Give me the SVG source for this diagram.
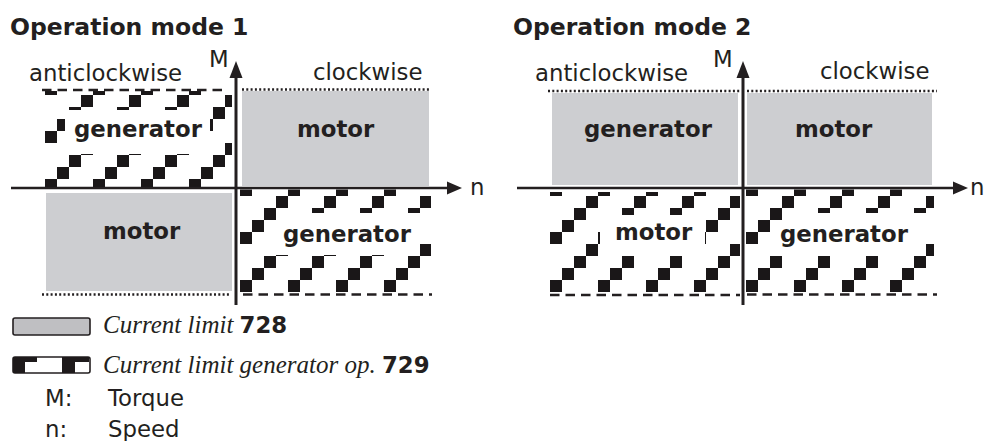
<svg xmlns="http://www.w3.org/2000/svg" width="984" height="441" viewBox="0 0 984 441">
<style>
text{fill:#231f20;font-family:"DejaVu Sans",Verdana,sans-serif}
.t{font-size:23.5px;font-weight:bold}
.lb{font-size:22.8px}
.b{font-size:22.8px;font-weight:bold}
.it{font-family:"Liberation Serif","Times New Roman",serif;font-style:italic;font-size:25px}
.gray{fill:#cdced1}
.dot{stroke:#231f20;stroke-width:2.5;stroke-dasharray:2 2.3;fill:none}
.dash{stroke:#231f20;stroke-width:2.6;stroke-dasharray:9.5 6;fill:none}
.ax{stroke:#231f20;fill:none}
.ah{fill:#231f20}
.bg{fill:#fff}
</style>
<defs>
<path id="stair" d="M0 36h12v12H0zM12 24h12v12H12zM24 12h12v12H24zM36 0h12v12H36z" fill="#1a1718"/>
<pattern id="p1" patternUnits="userSpaceOnUse" x="45" y="95" width="48" height="48"><use href="#stair"/></pattern>
<pattern id="p2" patternUnits="userSpaceOnUse" x="240" y="196" width="48" height="48"><use href="#stair"/></pattern>
<pattern id="p3" patternUnits="userSpaceOnUse" x="550" y="196" width="48" height="48"><use href="#stair"/></pattern>
<pattern id="p4" patternUnits="userSpaceOnUse" x="746" y="196" width="48" height="48"><use href="#stair"/></pattern>
</defs>

<text class="t" x="10" y="35">Operation mode 1</text>
<text class="t" x="513" y="35">Operation mode 2</text>

<g id="m1-tl">
<rect x="45" y="91" width="187" height="97" fill="url(#p1)"/>
<rect class="bg" x="65" y="110" width="145" height="44"/>
<line class="dash" x1="42" y1="90" x2="222" y2="90"/>
<text class="b" x="74" y="137">generator</text>
</g>
<g id="m1-tr">
<rect class="gray" x="242" y="91" width="187" height="95"/>
<line class="dot" x1="242" y1="89.5" x2="431" y2="89.5"/>
<text class="b" x="297" y="137">motor</text>
</g>
<g id="m1-bl">
<rect class="gray" x="46" y="193" width="186" height="98"/>
<line class="dot" x1="42" y1="294.5" x2="231" y2="294.5"/>
<text class="b" x="103" y="239">motor</text>
</g>
<g id="m1-br">
<rect x="240" y="189.5" width="191" height="102.5" fill="url(#p2)"/>
<rect class="bg" x="276" y="213" width="144" height="42"/>
<line class="dash" x1="243" y1="294.5" x2="432" y2="294.5"/>
<text class="b" x="283" y="242">generator</text>
</g>

<g id="m2-tl">
<rect class="gray" x="552" y="93" width="186" height="92"/>
<line class="dot" x1="548" y1="91" x2="740" y2="91"/>
<text class="b" x="584" y="137">generator</text>
</g>
<g id="m2-tr">
<rect class="gray" x="747" y="93" width="185" height="92"/>
<line class="dot" x1="747" y1="91" x2="937" y2="91"/>
<text class="b" x="795" y="137">motor</text>
</g>
<g id="m2-bl">
<rect x="550" y="192" width="190" height="100" fill="url(#p3)"/>
<rect class="bg" x="600" y="215" width="105" height="41"/>
<line class="dash" x1="550" y1="295" x2="740" y2="295"/>
<text class="b" x="615" y="240">motor</text>
</g>
<g id="m2-br">
<rect x="746" y="189.5" width="188" height="102.5" fill="url(#p4)"/>
<rect class="bg" x="782" y="213" width="144" height="43"/>
<line class="dash" x1="747" y1="294.5" x2="937" y2="294.5"/>
<text class="b" x="780" y="242">generator</text>
</g>

<g id="axes">
<line class="ax" stroke-width="2.6" x1="11" y1="188" x2="450" y2="188"/>
<polygon class="ah" points="447,181.5 462,188 447,194.5"/>
<line class="ax" stroke-width="3" x1="236" y1="305" x2="236" y2="75"/>
<polygon class="ah" points="229.5,78 236,61 242.5,78"/>
<line class="ax" stroke-width="2.6" x1="517" y1="188" x2="956" y2="188"/>
<polygon class="ah" points="953,181.5 968,188 953,194.5"/>
<line class="ax" stroke-width="3" x1="743" y1="305" x2="743" y2="75"/>
<polygon class="ah" points="736.5,78 743,61 749.5,78"/>
</g>

<g id="axis-labels">
<text class="lb" x="29" y="81">anticlockwise</text>
<text class="lb" x="209" y="67">M</text>
<text class="lb" x="313" y="80">clockwise</text>
<text class="lb" x="470" y="195">n</text>
<text class="lb" x="535" y="81">anticlockwise</text>
<text class="lb" x="713" y="67">M</text>
<text class="lb" x="820" y="79">clockwise</text>
<text class="lb" x="970" y="195">n</text>
</g>

<g id="legend">
<rect x="13" y="318" width="77" height="17" rx="2" fill="#bfbfc2" stroke="#231f20" stroke-width="1.6"/>
<text x="103" y="333"><tspan class="it">Current limit </tspan><tspan class="b">728</tspan></text>
<rect x="13" y="357" width="77" height="16" rx="2" fill="#fff" stroke="#231f20" stroke-width="1.6"/>
<rect x="13" y="357" width="12" height="16" fill="#1e1a1b"/>
<rect x="25" y="357" width="12" height="5" fill="#1e1a1b"/>
<rect x="62" y="361" width="13" height="12" fill="#1e1a1b"/>
<rect x="62" y="357" width="27" height="5" fill="#1e1a1b"/>
<text x="103" y="373"><tspan class="it">Current limit generator op. </tspan><tspan class="b">729</tspan></text>
<text class="lb" x="45" y="406">M:</text>
<text class="lb" x="108" y="406">Torque</text>
<text class="lb" x="45" y="437">n:</text>
<text class="lb" x="108" y="437">Speed</text>
</g>
</svg>
